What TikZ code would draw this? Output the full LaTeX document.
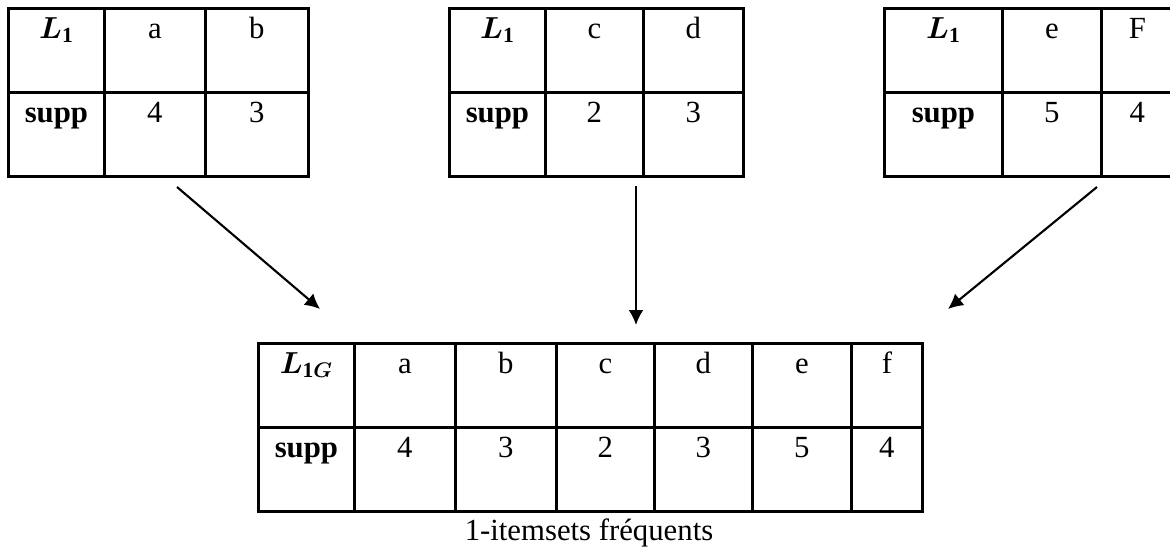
\documentclass[tikz,border=0pt]{standalone}
\usepackage{amsmath}
\usepackage{fontspec}
\setmainfont{Liberation Serif}
\usepackage{tikz}
\usetikzlibrary{arrows.meta}
\tikzstyle{cell}=[draw, rectangle, anchor=north west, line width=1.6pt,% text sits near the top
inner sep=0pt, minimum height=1.68cm, text height=0.6cm, text depth=1.08cm,
font=\fontsize{17.5}{20}\selectfont]
\tikzstyle{flow}=[-{Latex[length=0.3cm,width=0.3cm]}, line width=1.2pt]

\begin{document}
\begin{tikzpicture}[x=0.02cm,y=-0.02cm]
\clip (0,0) rectangle (1170,549);
% first table
\node[cell, minimum width=1.92cm] (taL) at (7,7) {$\boldsymbol{L}_{\mathbf{1}}$};
\node[cell, minimum width=2.02cm] (taA) at (103,7) {a};
\node[cell, minimum width=2.06cm] (taB) at (204,7) {b};
\node[cell, minimum width=1.92cm] (taS) at (7,91) {\textbf{supp}};
\node[cell, minimum width=2.02cm] (taSA) at (103,91) {4};
\node[cell, minimum width=2.06cm] (taSB) at (204,91) {3};
% second table
\node[cell, minimum width=1.92cm] (tbL) at (448,7) {$\boldsymbol{L}_{\mathbf{1}}$};
\node[cell, minimum width=1.96cm] (tbC) at (544,7) {c};
\node[cell, minimum width=2.00cm] (tbD) at (642,7) {d};
\node[cell, minimum width=1.92cm] (tbS) at (448,91) {\textbf{supp}};
\node[cell, minimum width=1.96cm] (tbSC) at (544,91) {2};
\node[cell, minimum width=2.00cm] (tbSD) at (642,91) {3};
% third table
\node[cell, minimum width=2.36cm] (tcL) at (883,7) {$\boldsymbol{L}_{\mathbf{1}}$};
\node[cell, minimum width=1.98cm] (tcE) at (1001,7) {e};
\node[cell, minimum width=1.44cm] (tcF) at (1100,7) {F};
\node[cell, minimum width=2.36cm] (tcS) at (883,91) {\textbf{supp}};
\node[cell, minimum width=1.98cm] (tcSE) at (1001,91) {5};
\node[cell, minimum width=1.44cm] (tcSF) at (1100,91) {4};
% global table
\node[cell, minimum width=1.92cm] (tgL) at (257,342) {$\boldsymbol{L}_{\mathbf{1}\boldsymbol{G}}$};
\node[cell, minimum width=2.02cm] (tgA) at (353,342) {a};
\node[cell, minimum width=2.02cm] (tgB) at (454,342) {b};
\node[cell, minimum width=1.96cm] (tgC) at (555,342) {c};
\node[cell, minimum width=1.96cm] (tgD) at (653,342) {d};
\node[cell, minimum width=1.98cm] (tgE) at (751,342) {e};
\node[cell, minimum width=1.42cm] (tgF) at (850,342) {f};
\node[cell, minimum width=1.92cm] (tgS) at (257,426) {\textbf{supp}};
\node[cell, minimum width=2.02cm] (tgSA) at (353,426) {4};
\node[cell, minimum width=2.02cm] (tgSB) at (454,426) {3};
\node[cell, minimum width=1.96cm] (tgSC) at (555,426) {2};
\node[cell, minimum width=1.96cm] (tgSD) at (653,426) {3};
\node[cell, minimum width=1.98cm] (tgSE) at (751,426) {5};
\node[cell, minimum width=1.42cm] (tgSF) at (850,426) {4};
\node[anchor=base, inner sep=0pt, font=\fontsize{17.5}{20}\selectfont] (caption) at (589,540) {1-itemsets fréquents};
% arrows
\coordinate (aOut) at (177,187);
\coordinate (aIn) at (320,309);
\coordinate (bOut) at (636,186);
\coordinate (bIn) at (636,325);
\coordinate (cOut) at (1097,187);
\coordinate (cIn) at (948,309);
\draw[flow] (aOut) -- (aIn);
\draw[flow] (bOut) -- (bIn);
\draw[flow] (cOut) -- (cIn);
\end{tikzpicture}
\end{document}
